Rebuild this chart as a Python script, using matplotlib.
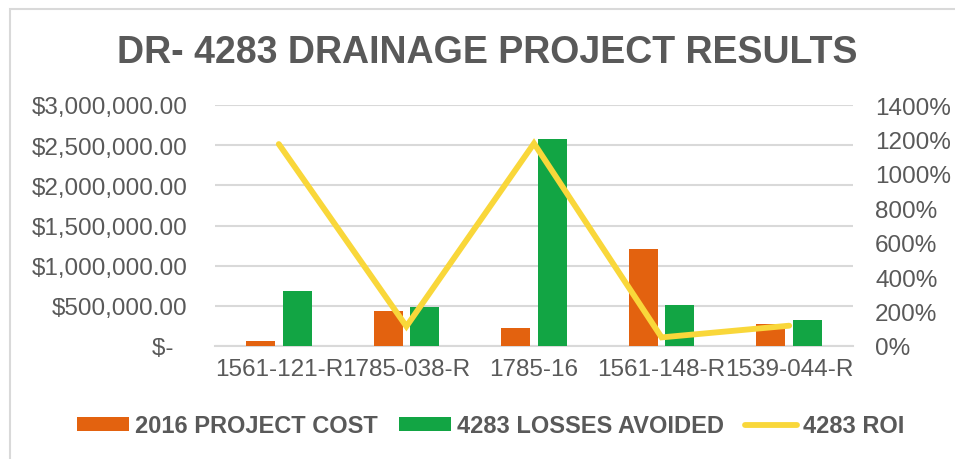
import numpy as np
import matplotlib.pyplot as plt
from matplotlib.patches import Rectangle
from matplotlib.ticker import FuncFormatter

# data
projects = ["1561-121-R", "1785-038-R", "1785-16", "1561-148-R", "1539-044-R"]
project_cost = [58000, 432000, 224000, 1204000, 274000]
losses_avoided = [681000, 485000, 2577000, 510000, 327000]
roi_pct = [1173, 114, 1177, 50, 118]

gray = "#595959"
orange = "#E3620F"
green = "#12A544"
yellow = "#F9D73A"

plt.rcParams['font.family'] = ['Liberation Sans', 'DejaVu Sans']

fig = plt.figure(figsize=(9.55, 4.6), dpi=100)
ax = fig.add_axes([215 / 955, 1 - 347 / 460, 638 / 955, 241 / 460])
ax2 = ax.twinx()

x = np.arange(len(projects))
w = 0.227
off = 0.143
ax.bar(x - off, project_cost, w, color=orange, label="2016 PROJECT COST", zorder=3)
ax.bar(x + off, losses_avoided, w, color=green, label="4283 LOSSES AVOIDED", zorder=3)
ax2.plot(x, roi_pct, color=yellow, lw=4.2, solid_capstyle='round',
         solid_joinstyle='miter', label="4283 ROI")

ax.set_xlim(-0.5, len(projects) - 0.5)
ax.set_ylim(0, 3000000)
ax.set_yticks(np.arange(0, 3000001, 500000))
ax2.set_ylim(0, 1400)
ax2.set_yticks(np.arange(0, 1401, 200))

def money(v, pos):
    if v == 0:
        return "$-  "
    return "${:,.2f}".format(v)

ax.yaxis.set_major_formatter(FuncFormatter(money))
ax2.yaxis.set_major_formatter(FuncFormatter(lambda v, p: "{:.0f}%".format(v)))
ax.set_xticks(x)
ax.set_xticklabels(projects)

ax.grid(axis='y', color="#D9D9D9", lw=1.5, zorder=0)
ax.set_axisbelow(True)
for a in (ax, ax2):
    for s in a.spines.values():
        s.set_visible(False)
ax.spines['bottom'].set_visible(True)
ax.spines['bottom'].set_color("#D9D9D9")
ax.spines['bottom'].set_linewidth(1.5)

ax.tick_params(axis='y', length=0, pad=20, labelsize=17.5, labelcolor=gray)
ax.tick_params(axis='x', length=0, pad=9, labelsize=17.5, labelcolor=gray)
ax2.tick_params(axis='y', length=0, pad=16, labelsize=17.5, labelcolor=gray)

fig.text(0.51, 1 - 53 / 460, "DR- 4283 DRAINAGE PROJECT RESULTS", ha='center', va='center',
         fontsize=27, fontweight='bold', color=gray)

h1, l1 = ax.get_legend_handles_labels()
h2, l2 = ax2.get_legend_handles_labels()
fig.legend(h1 + h2, l1 + l2, loc='center', bbox_to_anchor=(0.514, 1 - 427 / 460), ncol=3,
           frameon=False, prop={'weight': 'bold', 'size': 17}, labelcolor=gray,
           handlelength=2.2, handleheight=0.55, handletextpad=0.25, columnspacing=0.9)

fig.patches.append(Rectangle((10 / 955, -0.1), 1.2, 1.1 - 10 / 460, transform=fig.transFigure,
                             fill=False, edgecolor="#D9D9D9", lw=1.5))

fig.savefig("out.png", dpi=100)
